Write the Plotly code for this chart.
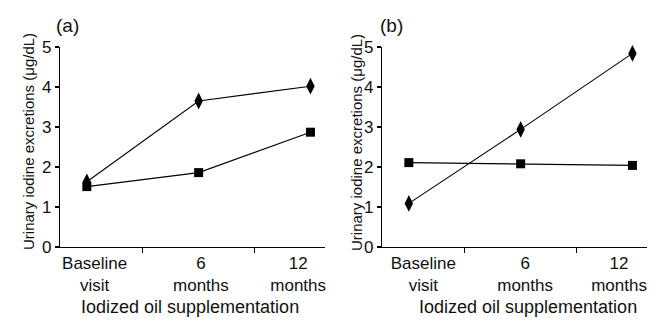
import plotly.graph_objects as go

categories = ["Baseline<br>visit", "6<br>months", "12<br>months"]
a_diamond = [1.63, 3.65, 4.02]
a_square = [1.51, 1.86, 2.87]
b_diamond = [1.09, 2.94, 4.84]
b_square = [2.11, 2.08, 2.04]
y_ticks = [0, 1, 2, 3, 4, 5]
panel_labels = ["(a)", "(b)"]
x_title = "Iodized oil supplementation"
y_title = "Urinary iodine excretions (μg/dL)"

W, H = 659, 323
FONT = "Liberation Sans, Arial, sans-serif"
xpos = list(range(len(categories)))

fig = go.Figure()
line = dict(color="black", width=1.1)
for xa, ya, dvals, svals in [("x", "y", a_diamond, a_square), ("x2", "y2", b_diamond, b_square)]:
    fig.add_trace(go.Scatter(x=xpos, y=dvals, xaxis=xa, yaxis=ya, mode="lines+markers",
                             line=line, marker=dict(symbol="diamond-tall", size=12, color="black"),
                             showlegend=False, cliponaxis=False))
    fig.add_trace(go.Scatter(x=xpos, y=svals, xaxis=xa, yaxis=ya, mode="lines+markers",
                             line=line, marker=dict(symbol="square", size=9, color="black"),
                             showlegend=False, cliponaxis=False))

def px(x):
    return x / W

def py(y):
    return 1 - y / H

label_offsets = {"x": [0.07, 1.02, 1.89], "x2": [0.13, 1.04, 1.88]}
xdoms = {"x": [px(60), px(325)], "x2": [px(382), px(647)]}
ydom = [py(247), py(47)]

for key, name in [("x", "xaxis"), ("x2", "xaxis2")]:
    fig.layout[name] = dict(
        domain=xdoms[key], range=[-0.24, 2.13], showgrid=False, zeroline=False,
        showline=True, linecolor="black", linewidth=1.2, automargin=False,
        tickvals=label_offsets[key], ticktext=categories, ticks="", ticklen=0,
        tickfont=dict(family=FONT, size=17, color="#111"),
        minor=dict(tickvals=[0.5, 1.5], ticks="outside", ticklen=5, tickcolor="black", tickwidth=1.2),
        anchor="y" if key == "x" else "y2", fixedrange=True,
    )
for key, name, anc in [("y", "yaxis", "x"), ("y2", "yaxis2", "x2")]:
    fig.layout[name] = dict(
        domain=ydom, range=[0, 5], showgrid=False, zeroline=False,
        showline=True, linecolor="black", linewidth=1.2, automargin=False,
        tickvals=y_ticks, ticks="outside", ticklen=4, tickcolor="black", tickwidth=1.2,
        tickfont=dict(family=FONT, size=17, color="#111"), anchor=anc, fixedrange=True,
    )

ann = []
for cx, lab, lx in [(190, panel_labels[0], 67), (528, panel_labels[1], 391)]:
    ann.append(dict(text=x_title, x=px(cx), y=py(307), xref="paper", yref="paper",
                    showarrow=False, font=dict(family=FONT, size=18, color="#111"),
                    xanchor="center", yanchor="middle"))
    ann.append(dict(text=lab, x=px(lx), y=py(25), xref="paper", yref="paper",
                    showarrow=False, font=dict(family=FONT, size=19, color="#111"),
                    xanchor="center", yanchor="middle"))
for cx in [28, 356]:
    ann.append(dict(text=y_title, x=px(cx), y=py(142), xref="paper", yref="paper",
                    showarrow=False, textangle=-90, font=dict(family=FONT, size=15, color="#111"),
                    xanchor="center", yanchor="middle"))

fig.update_layout(width=W, height=H, margin=dict(l=0, r=0, t=0, b=0, pad=0, autoexpand=False),
                  paper_bgcolor="white", plot_bgcolor="white", annotations=ann)
fig.write_html(
    "out.html",
    config={"displayModeBar": False, "staticPlot": True},
    post_script=(
        "document.documentElement.style.overflow='hidden';"
        "document.body.style.margin='0';document.body.style.overflow='hidden';"
        "var d=document.querySelector('.plotly-graph-div');"
        "d.style.position='fixed';d.style.top='0';d.style.left='0';"
    ),
)
